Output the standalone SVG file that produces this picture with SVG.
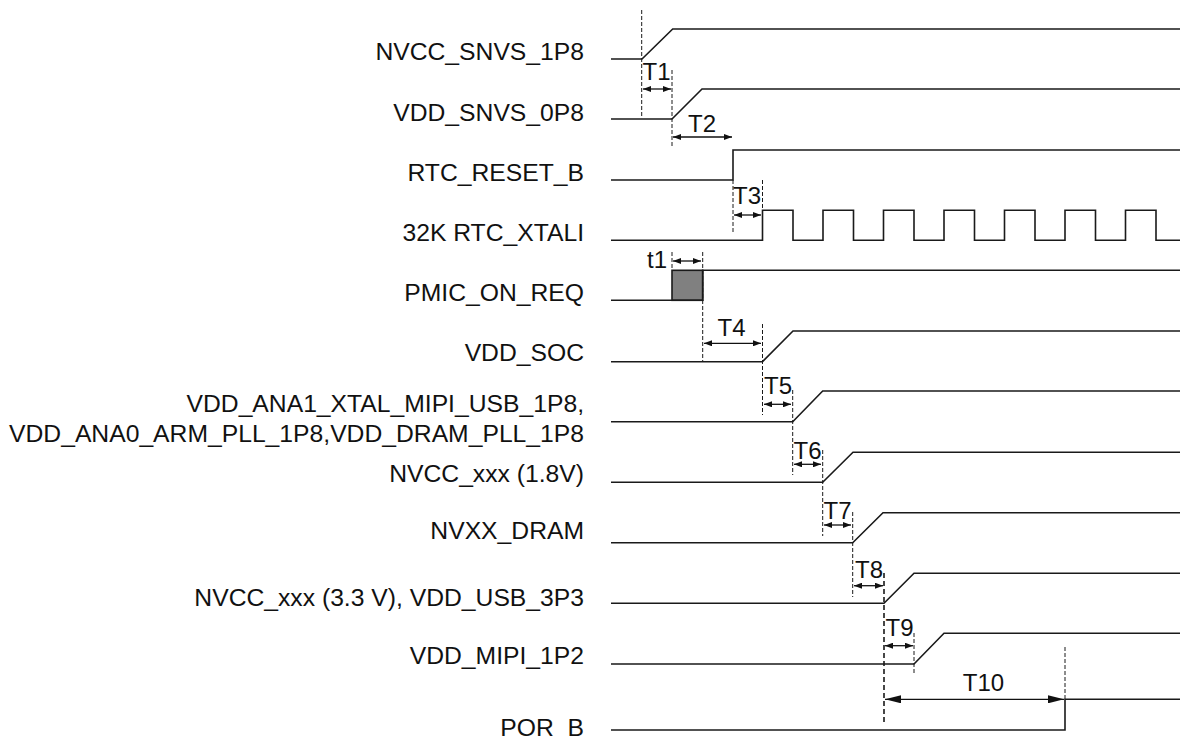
<svg xmlns="http://www.w3.org/2000/svg" width="1180" height="738" viewBox="0 0 1180 738">
<defs>
<marker id="ah" viewBox="0 0 8 6" refX="8" refY="3" markerWidth="8" markerHeight="6" markerUnits="userSpaceOnUse" orient="auto-start-reverse"><path d="M0,0 L8,3 L0,6 Z" fill="#111"/></marker>
<marker id="ahL" viewBox="0 0 16 8" refX="16" refY="4" markerWidth="16" markerHeight="8" markerUnits="userSpaceOnUse" orient="auto-start-reverse"><path d="M0,0 L16,4 L0,8 Z" fill="#111"/></marker>
<style>
.lbl{font-family:"Liberation Sans",Arial,sans-serif;font-size:24.7px;fill:#111;text-anchor:end}
.tl{font-family:"Liberation Sans",Arial,sans-serif;font-size:24px;fill:#111;text-anchor:middle}
.sig{fill:none;stroke:#1a1a1a;stroke-width:1.6}
.dash{fill:none;stroke:#1a1a1a;stroke-width:1;stroke-dasharray:4 2}
.dashT{fill:none;stroke:#1a1a1a;stroke-width:1.6;stroke-dasharray:5 3}
.arr{fill:none;stroke:#111;stroke-width:1.3;marker-start:url(#ah);marker-end:url(#ah)}
.arrL{fill:none;stroke:#111;stroke-width:1.3;marker-start:url(#ahL);marker-end:url(#ahL)}
</style>
</defs>
<rect width="1180" height="738" fill="#fff"/>
<g id="labels">
<g id="n1"><text class="lbl" x="584" y="60">NVCC_SNVS_1P8</text></g>
<g id="n2"><text class="lbl" x="584" y="121">VDD_SNVS_0P8</text></g>
<g id="n3"><text class="lbl" x="584" y="181">RTC_RESET_B</text></g>
<g id="n4"><text class="lbl" x="584" y="241">32K RTC_XTALI</text></g>
<g id="n5"><text class="lbl" x="584" y="301">PMIC_ON_REQ</text></g>
<g id="n6"><text class="lbl" x="584" y="361">VDD_SOC</text></g>
<g id="n7"><text class="lbl" x="584" y="412">VDD_ANA1_XTAL_MIPI_USB_1P8,</text><text class="lbl" x="584" y="442">VDD_ANA0_ARM_PLL_1P8,VDD_DRAM_PLL_1P8</text></g>
<g id="n8"><text class="lbl" x="584" y="482">NVCC_xxx (1.8V)</text></g>
<g id="n9"><text class="lbl" x="584" y="539">NVXX_DRAM</text></g>
<g id="n10"><text class="lbl" x="584" y="606">NVCC_xxx (3.3 V), VDD_USB_3P3</text></g>
<g id="n11"><text class="lbl" x="584" y="664">VDD_MIPI_1P2</text></g>
<g id="n12"><text class="lbl" x="584" y="736">POR_B</text></g>
</g>
<g id="signals">
<path class="sig" d="M611,59 H642 L672.7,29 H1180"/>
<path class="sig" d="M611,119 H672 L702,89 H1180"/>
<path class="sig" d="M611,180 H733 V150 H1180"/>
<path class="sig" d="M611,240.3 H762.5 V210.3 H793 V240.3 H823 V210.3 H853.5 V240.3 H883.5 V210.3 H914 V240.3 H944 V210.3 H974.5 V240.3 H1004.5 V210.3 H1035 V240.3 H1065 V210.3 H1095.5 V240.3 H1125.5 V210.3 H1156 V240.3 H1180"/>
<rect x="672" y="270.3" width="30.7" height="30" fill="#808080" stroke="#1a1a1a" stroke-width="1.6"/>
<path class="sig" d="M611,300.3 H702.7 V270.3 H1180"/>
<path class="sig" d="M611,361.7 H762.5 L793,331 H1180"/>
<path class="sig" d="M611,421.7 H792.7 L822.7,391 H1180"/>
<path class="sig" d="M611,482.3 H822.7 L853,452.3 H1180"/>
<path class="sig" d="M611,542.7 H852.7 L883,512.7 H1180"/>
<path class="sig" d="M611,603.3 H884 L914,573.3 H1180"/>
<path class="sig" d="M611,664 H914 L944,633.3 H1180"/>
<path class="sig" d="M611,730 H1065 V699.3 H1180"/>
</g>
<g id="connectors">
<path class="dash" d="M641.7,10 V118"/>
<path class="dash" d="M672,70 V148"/>
<path class="dash" d="M733,180 V232"/>
<path class="dash" d="M762.5,180 V210"/>
<path class="dash" d="M672,252 V270"/>
<path class="dash" d="M702.7,252 V361.7"/>
<path class="dash" d="M762.5,324 V415"/>
<path class="dash" d="M792.7,390 V475"/>
<path class="dash" d="M822.7,450 V536"/>
<path class="dash" d="M852.7,512 V597"/>
<path class="dashT" d="M884,573 V725"/>
<path class="dash" d="M914,633 V673" stroke="#555"/>
<path class="dash" d="M1065,647 V699"/>
<path class="arr" d="M643,89 H671"/>
<path class="arr" d="M673,137 H732"/>
<path class="arr" d="M734,215 H761"/>
<path class="arr" d="M673,261 H701"/>
<path class="arr" d="M704,343.3 H761"/>
<path class="arr" d="M764,404.3 H791"/>
<path class="arr" d="M794,464.3 H821"/>
<path class="arr" d="M824,525 H851"/>
<path class="arr" d="M854,585.7 H883"/>
<path class="arr" d="M885,645.7 H913"/>
<path class="arrL" d="M885,699.3 H1064"/>
<text class="tl" x="656.5" y="80">T1</text>
<text class="tl" x="702" y="132">T2</text>
<text class="tl" x="747" y="204">T3</text>
<text class="tl" x="657" y="268">t1</text>
<text class="tl" x="731.5" y="336">T4</text>
<text class="tl" x="778" y="394">T5</text>
<text class="tl" x="807.5" y="459">T6</text>
<text class="tl" x="837.5" y="519">T7</text>
<text class="tl" x="869" y="577.5">T8</text>
<text class="tl" x="899.5" y="636">T9</text>
<text class="tl" x="983.5" y="690.5">T10</text>
</g>
</svg>
